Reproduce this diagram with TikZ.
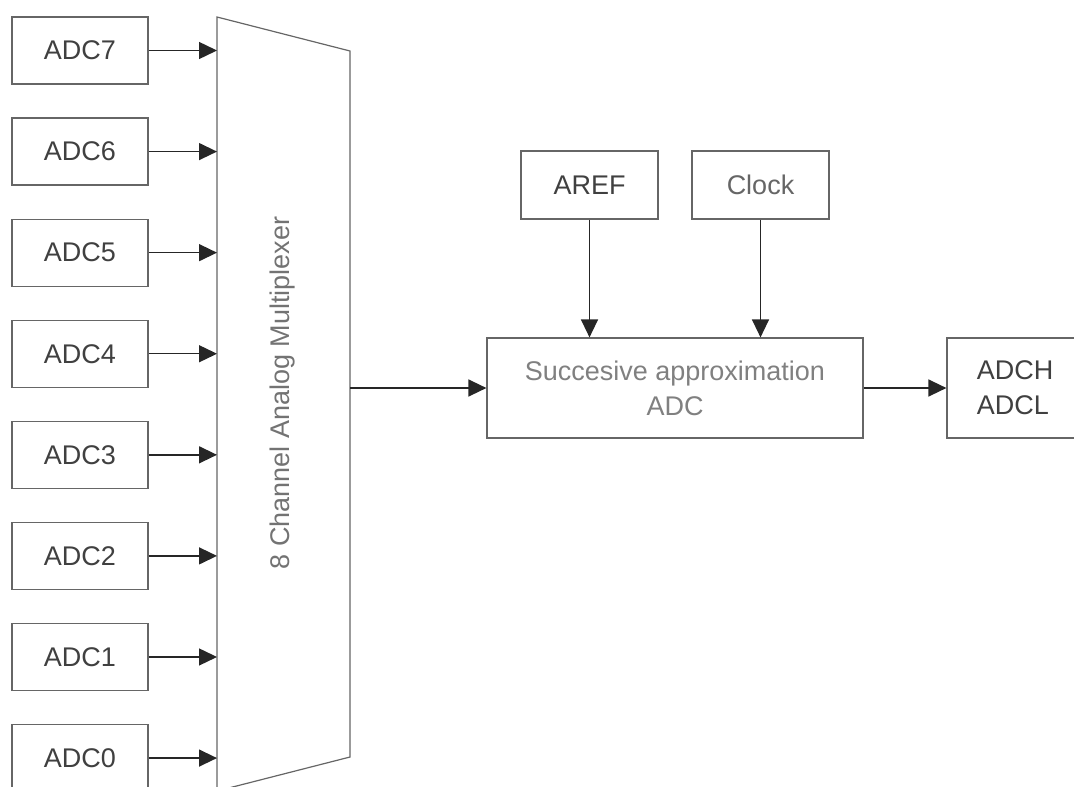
\documentclass[tikz,border=0pt]{standalone}
\usepackage{fontspec}
\setmainfont{Liberation Sans}
\usepackage{tikz}
\usetikzlibrary{positioning, arrows.meta}

\tikzset{
    blockbox/.style={draw=black!60, line width=1.2pt, minimum width=136pt, minimum height=67pt,
        font=\fontsize{27}{35}\selectfont, text=black!75, inner sep=0pt},
    sig/.style={draw=black!85, line width=1.4pt, -{Triangle[length=18pt,width=17pt]}}
}

\begin{document}
\begin{tikzpicture}[x=1pt, y=-1pt]
    \useasboundingbox (0,0) rectangle (1074,787);

    % Multiplexer outline
    \coordinate (mtl) at (217,17);
    \coordinate (mtr) at (350,51);
    \coordinate (mbr) at (350,757);
    \coordinate (mbl) at (217,791);
    \draw[black!60, line width=1.2pt] (mtl) -- (mtr) -- (mbr) -- (mbl) -- cycle;
    \node[rotate=90, font=\fontsize{27}{35}\selectfont, text=black!55] (muxlabel) at (283,393) {8 Channel Analog Multiplexer};

    % Input channels ADC7 ... ADC0
    \foreach \i in {0,...,7} {
        \node[blockbox] (adc\i) at (80, {50.5+101.08*(7-\i)}) {ADC\i};
        \coordinate (muxin\i) at (217, {50.5+101.08*(7-\i)});
        \draw[sig] (adc\i.east) -- (muxin\i);
    }

    % Converter and its inputs
    \coordinate (muxout) at (350,388);
    \node[blockbox, minimum width=376pt, minimum height=100pt, text=black!50, align=center] (sar) at (675,388)
        {Succesive approximation\\ADC};
    \node[blockbox, minimum width=137pt, minimum height=68pt] (aref) at (589.5,185) {AREF};
    \node[blockbox, minimum width=137pt, minimum height=68pt, text=black!60] (clock) at (760.5,185) {Clock};
    \node[blockbox, minimum height=100pt, align=left] (result) at (1015,388) {ADCH\\ADCL};

    \draw[sig] (muxout) -- (sar.west);
    \draw[sig] (aref.south) -- (aref.south |- sar.north);
    \draw[sig] (clock.south) -- (clock.south |- sar.north);
    \draw[sig] (sar.east) -- (result.west);
\end{tikzpicture}
\end{document}
